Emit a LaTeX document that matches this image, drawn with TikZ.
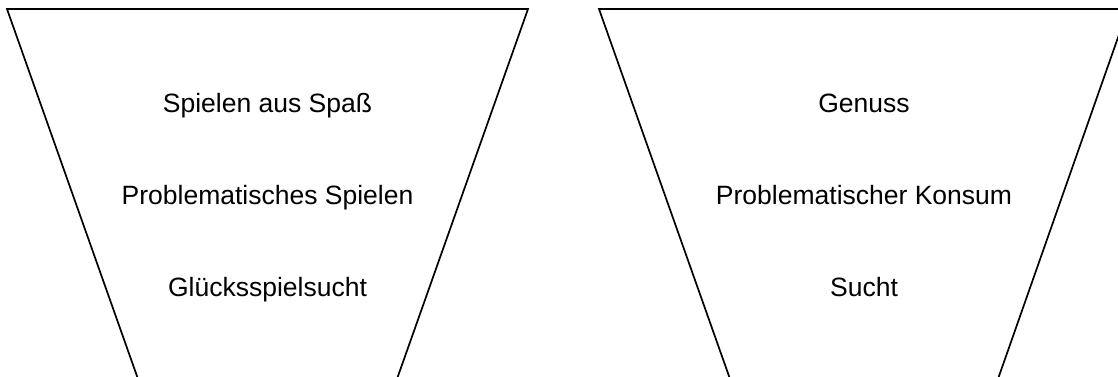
\documentclass[tikz,border=0pt]{standalone}
\usepackage{fontspec}
\setmainfont{Liberation Sans}
\begin{document}
\begin{tikzpicture}[x=1pt,y=-1pt,
  funnel/.style={draw=black,line width=1.7pt,line join=miter},
  lbl/.style={anchor=base,inner sep=0pt,font=\fontsize{26.5pt}{32pt}\selectfont}]
\useasboundingbox (0,0) rectangle (1118,376);
\clip (0,0) rectangle (1118,376);
\fill[white] (0,0) rectangle (1118,376);
% left funnel
\draw[funnel] (140.5,386) -- (7,9) -- (528,9) -- (394.5,386);
% right funnel
\draw[funnel] (732.5,386) -- (599,9) -- (1128,9) -- (995.5,386);
\node[lbl] (a1) at (267.5,112) {Spielen aus Spaß};
\node[lbl] (a2) at (267.5,204) {Problematisches Spielen};
\node[lbl] (a3) at (267.5,296) {Glücksspielsucht};
\node[lbl] (b1) at (864,112) {Genuss};
\node[lbl] (b2) at (864,204) {Problematischer Konsum};
\node[lbl] (b3) at (864,296) {Sucht};
\end{tikzpicture}
\end{document}
